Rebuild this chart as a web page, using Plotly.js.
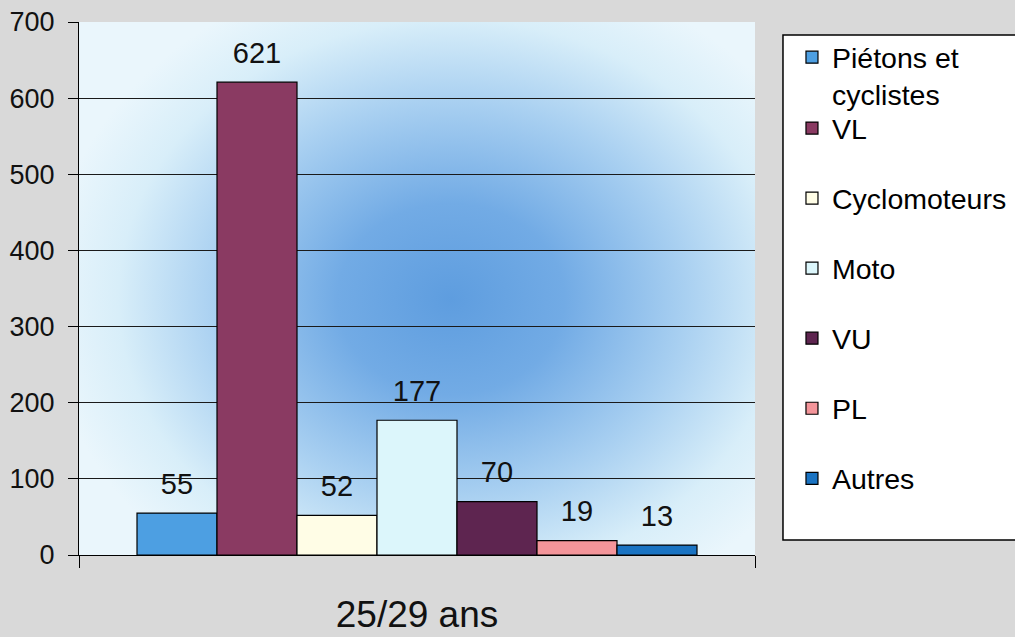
<!DOCTYPE html>
<html>
<head>
<meta charset="utf-8">
<script src="https://cdn.plot.ly/plotly-3.0.1.min.js"></script>
<style>
  html, body { margin: 0; padding: 0; background: #d9d9d9; }
  #bg {
    position: absolute; left: 79px; top: 22px; width: 676px; height: 533px;
    background: radial-gradient(ellipse 60% 64% at 55% 52%, #5e9ddf 0%, #72abe5 28%, #a9d0f1 58%, #d8eef9 82%, #eaf6fc 100%);
  }
  #chart { position: absolute; left: 0; top: 0; width: 1015px; height: 637px; }
</style>
</head>
<body>
<div id="bg"></div>
<div id="chart"></div>
<script>
// ---- data ----
const categories = ['25/29 ans'];
const seriesNames = ['Piétons et<br>cyclistes', 'VL', 'Cyclomoteurs', 'Moto', 'VU', 'PL', 'Autres'];
const seriesValues = [55, 621, 52, 177, 70, 19, 13];
const yTickValues = [0, 100, 200, 300, 400, 500, 600, 700];

// ---- styles ----
const seriesColors = ['#4d9fe2', '#8a3a62', '#fffde6', '#dcf6fb', '#5e2550', '#f4959a', '#1a73c2'];
const FONT = 'Liberation Sans, Arial, sans-serif';
const GAP = 0.1716;

const traces = [];
seriesNames.forEach((name, i) => {
  traces.push({
    type: 'bar',
    name: name,
    x: categories,
    y: [seriesValues[i]],
    offsetgroup: 'g' + i,
    legendgroup: 'g' + i,
    legend: i === 0 ? 'legend' : 'legend2',
    marker: { color: seriesColors[i], line: { color: '#000', width: 1.2 } },
    hoverinfo: 'name+y'
  });
});
seriesNames.forEach((name, i) => {
  traces.push({
    type: 'scatter',
    mode: 'markers+text',
    x: categories,
    y: [seriesValues[i]],
    text: [String(seriesValues[i])],
    textposition: 'top center',
    textfont: { family: FONT, size: 29, color: '#111' },
    marker: { size: 18, opacity: 0 },
    offsetgroup: 'g' + i,
    showlegend: false,
    cliponaxis: false,
    hoverinfo: 'skip'
  });
});

const layout = {
  width: 1015, height: 637,
  margin: { l: 79, r: 260, t: 22, b: 82, autoexpand: false },
  paper_bgcolor: 'rgba(0,0,0,0)',
  plot_bgcolor: 'rgba(0,0,0,0)',
  font: { family: FONT, color: '#000' },
  barmode: 'group', bargap: GAP, bargroupgap: 0,
  scattermode: 'group', scattergap: GAP,
  xaxis: {
    type: 'category',
    showline: true, linecolor: '#000', linewidth: 1.2,
    ticks: 'outside', tickson: 'boundaries', ticklen: 12, tickcolor: '#000', tickwidth: 1.2,
    showgrid: false, zeroline: false,
    tickfont: { family: FONT, size: 37, color: '#111' },
    ticklabelstandoff: 26
  },
  yaxis: {
    range: [0, 700],
    tickvals: yTickValues,
    showline: true, linecolor: '#000', linewidth: 1.2,
    ticks: 'outside', ticklen: 10, tickcolor: '#000', tickwidth: 1.2,
    showgrid: true, gridcolor: '#1a1a1a', gridwidth: 1,
    zeroline: false,
    tickfont: { family: FONT, size: 27, color: '#111' },
    ticklabelstandoff: 8
  },
  legend: {
    x: 1.0547, y: 0.981, xanchor: 'left', yanchor: 'top',
    bgcolor: 'rgba(0,0,0,0)', borderwidth: 0, valign: 'top',
    font: { family: FONT, size: 28.5, color: '#000' }
  },
  legend2: {
    x: 1.0547, y: 0.848, xanchor: 'left', yanchor: 'top',
    bgcolor: 'rgba(0,0,0,0)', borderwidth: 0, valign: 'top', tracegroupgap: 30,
    font: { family: FONT, size: 28.5, color: '#000' }
  },
  shapes: [{
    type: 'rect', xref: 'paper', yref: 'paper',
    x0: 1.0414, x1: 1.40, y0: 0.0281, y1: 0.9756,
    line: { color: '#000', width: 1.5 }, fillcolor: '#ffffff', layer: 'below'
  }]
};

Plotly.newPlot('chart', traces, layout, { displayModeBar: false, responsive: false });
</script>
</body>
</html>
